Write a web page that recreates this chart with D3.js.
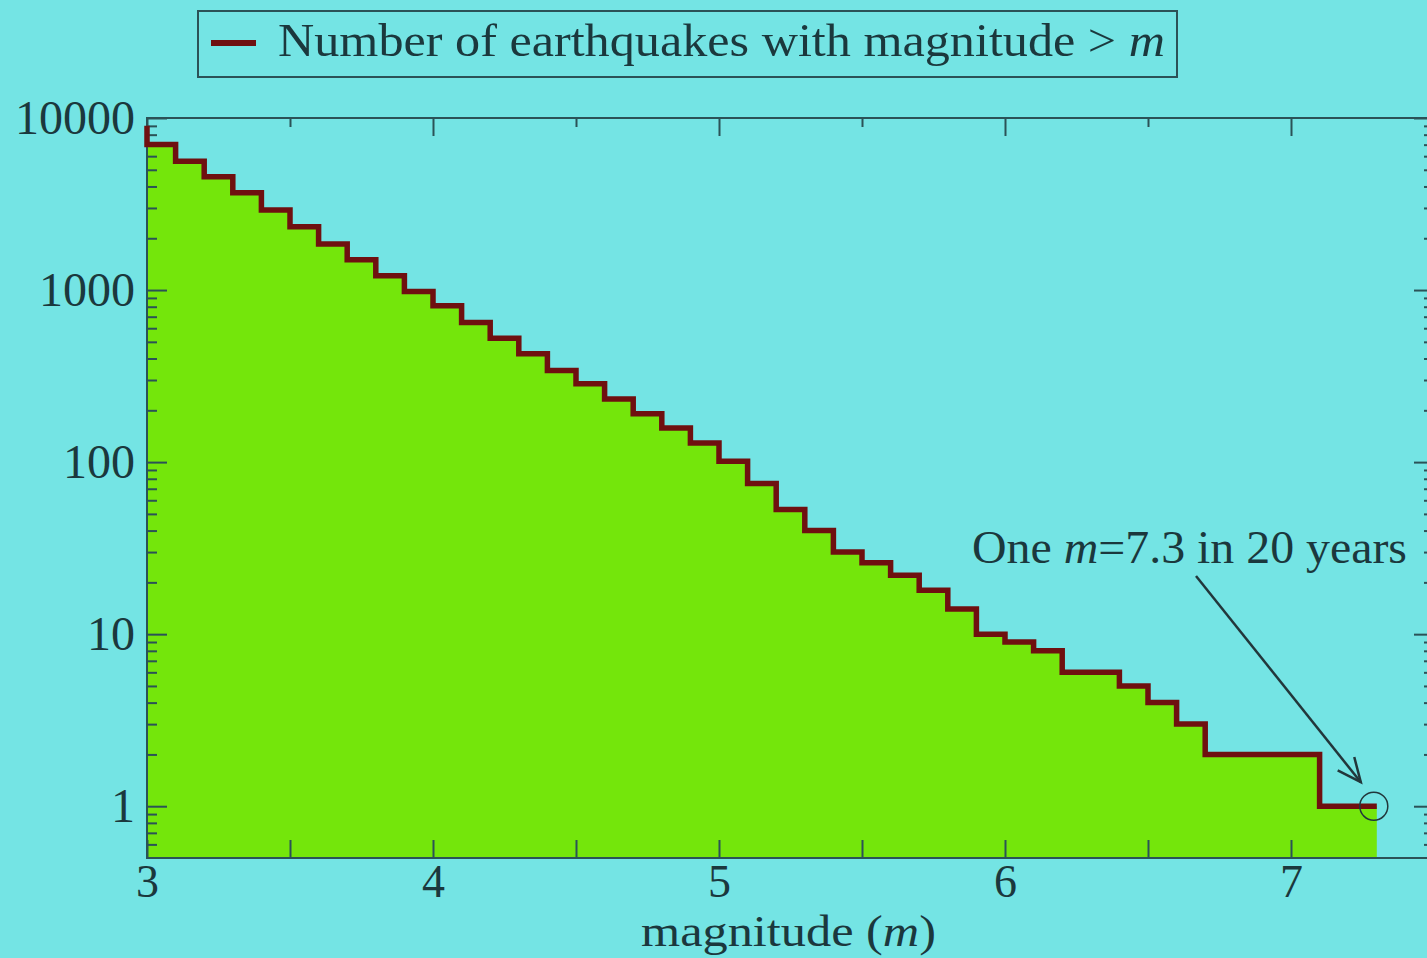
<!DOCTYPE html>
<html>
<head>
<meta charset="utf-8">
<script src="https://cdn.jsdelivr.net/npm/d3@7"></script>
<style>
  html, body { margin: 0; padding: 0; background: #74e4e4; overflow: hidden; }
  svg { display: block; }
  text { font-family: "Liberation Serif", "Times New Roman", serif; fill: #1b383d; }
</style>
</head>
<body>
<svg id="chart" width="1427" height="958"></svg>
<script>
// Cumulative count of earthquakes with magnitude above m, in 0.1 bins
const magnitudes = [3.0, 3.1, 3.2, 3.3, 3.4, 3.5, 3.6, 3.7, 3.8, 3.9,
                    4.0, 4.1, 4.2, 4.3, 4.4, 4.5, 4.6, 4.7, 4.8, 4.9,
                    5.0, 5.1, 5.2, 5.3, 5.4, 5.5, 5.6, 5.7, 5.8, 5.9,
                    6.0, 6.1, 6.2, 6.3, 6.4, 6.5, 6.6, 6.7, 6.8, 6.9,
                    7.0, 7.1, 7.2];
const counts = [7020, 5610, 4550, 3680, 2920, 2330, 1850, 1500, 1210, 980,
                810, 647, 525, 426, 341, 285, 233, 191, 158, 129,
                101, 75, 53, 40, 30, 26, 22, 18, 14, 10,
                9, 8, 6, 6, 5, 4, 3, 2, 2, 2,
                2, 1, 1];
const leadCount = 9000;      // top of the first riser at m = 3
const lastMagnitude = 7.3;   // largest event in the catalogue

const xTicksMajor = [3, 4, 5, 6, 7];
const xTicksHalf = [3.5, 4.5, 5.5, 6.5];
const yTicksMajor = [1, 10, 100, 1000, 10000];
const yTickLabels = ["1", "10", "100", "1000", "10000"];
const yTicksMinor = [0.6, 0.7, 0.8, 0.9,
                     2, 3, 4, 5, 6, 7, 8, 9,
                     20, 30, 40, 50, 60, 70, 80, 90,
                     200, 300, 400, 500, 600, 700, 800, 900,
                     2000, 3000, 4000, 5000, 6000, 7000, 8000, 9000];

const legendLabel = "Number of earthquakes with magnitude > ";
const xLabel = "magnitude (";
const notePrefix = "One ";
const noteSuffix = "=7.3 in 20 years";

const COLORS = {
  fill: "#74e60b",
  line: "#6f1010",
  axis: "#2b5257",
  note: "#22373b"
};

const svg = d3.select("#chart");
const plot = { left: 147, right: 1434, top: 118, bottom: 858 };

const x = d3.scaleLinear().domain([3, 7.5]).range([plot.left, plot.right]);
const y = d3.scaleLog().domain([0.5, 10000]).range([plot.bottom, plot.top]);

// step points: a zero-width lead-in, then one point per bin, closed at the last event
const steps = [[3.0, leadCount]]
  .concat(magnitudes.map((m, i) => [m, counts[i]]))
  .concat([[lastMagnitude, counts[counts.length - 1]]]);

const area = d3.area()
  .x(d => x(d[0]))
  .y0(y(0.5))
  .y1(d => y(d[1]))
  .curve(d3.curveStepAfter);

const line = d3.line()
  .x(d => x(d[0]))
  .y(d => y(d[1]))
  .curve(d3.curveStepAfter);

svg.append("path")
  .datum(steps.slice(1))
  .attr("d", area)
  .attr("fill", COLORS.fill);

// axes: ticks point inward
function styleAxis(g, size) {
  g.select(".domain").remove();
  g.selectAll(".tick line").attr("stroke", COLORS.axis).attr("stroke-width", 2);
  g.selectAll(".tick text")
    .attr("fill", "#1b383d")
    .style("font-family", '"Liberation Serif", "Times New Roman", serif')
    .style("font-size", (size || 48) + "px");
}

svg.append("g")
  .attr("transform", `translate(0,${plot.bottom})`)
  .call(d3.axisBottom(x).tickValues(xTicksMajor).tickSize(-18).tickSizeOuter(0)
    .tickPadding(6).tickFormat(d3.format("d")))
  .call(g => styleAxis(g, 46));

svg.append("g")
  .attr("transform", `translate(0,${plot.bottom})`)
  .call(d3.axisBottom(x).tickValues(xTicksHalf).tickSize(-18).tickSizeOuter(0).tickFormat(""))
  .call(styleAxis);

svg.append("g")
  .attr("transform", `translate(0,${plot.top})`)
  .call(d3.axisTop(x).tickValues(xTicksMajor).tickSize(-18).tickSizeOuter(0).tickFormat(""))
  .call(styleAxis);

svg.append("g")
  .attr("transform", `translate(0,${plot.top})`)
  .call(d3.axisTop(x).tickValues(xTicksHalf).tickSize(-9).tickSizeOuter(0).tickFormat(""))
  .call(styleAxis);

svg.append("g")
  .attr("transform", `translate(${plot.left},0)`)
  .call(d3.axisLeft(y).tickValues(yTicksMajor).tickSize(-20).tickSizeOuter(0)
    .tickPadding(12).tickFormat((d, i) => yTickLabels[i]))
  .call(styleAxis);

svg.append("g")
  .attr("transform", `translate(${plot.left},0)`)
  .call(d3.axisLeft(y).tickValues(yTicksMinor).tickSize(-10).tickSizeOuter(0).tickFormat(""))
  .call(styleAxis);

svg.append("g")
  .attr("transform", `translate(${plot.right},0)`)
  .call(d3.axisRight(y).tickValues(yTicksMajor).tickSize(-20).tickSizeOuter(0).tickFormat(""))
  .call(styleAxis);

svg.append("g")
  .attr("transform", `translate(${plot.right},0)`)
  .call(d3.axisRight(y).tickValues(yTicksMinor).tickSize(-10).tickSizeOuter(0).tickFormat(""))
  .call(styleAxis);

// frame
svg.append("rect")
  .attr("x", plot.left).attr("y", plot.top)
  .attr("width", plot.right - plot.left).attr("height", plot.bottom - plot.top)
  .attr("fill", "none").attr("stroke", COLORS.axis).attr("stroke-width", 2);

// step outline
svg.append("path")
  .datum(steps)
  .attr("d", line)
  .attr("fill", "none")
  .attr("stroke", COLORS.line)
  .attr("stroke-width", 5.5)
  .attr("stroke-linejoin", "miter");

// x-axis title
const xt = svg.append("text")
  .attr("x", 641).attr("y", 946)
  .attr("textLength", 295).attr("lengthAdjust", "spacingAndGlyphs")
  .style("font-size", "44px");
xt.append("tspan").text(xLabel);
xt.append("tspan").style("font-style", "italic").text("m");
xt.append("tspan").text(")");

// legend
const legend = svg.append("g");
legend.append("rect")
  .attr("x", 198).attr("y", 11).attr("width", 979).attr("height", 66)
  .attr("fill", "none").attr("stroke", COLORS.axis).attr("stroke-width", 2);
legend.append("line")
  .attr("x1", 211).attr("x2", 256).attr("y1", 43).attr("y2", 43)
  .attr("stroke", COLORS.line).attr("stroke-width", 6);
const lt = legend.append("text")
  .attr("x", 278).attr("y", 56)
  .attr("textLength", 887).attr("lengthAdjust", "spacingAndGlyphs")
  .style("font-size", "46px");
lt.append("tspan").text(legendLabel);
lt.append("tspan").style("font-style", "italic").text("m");

// annotation for the largest event
const px = x(lastMagnitude), py = y(counts[counts.length - 1]);
svg.append("circle")
  .attr("cx", px - 3).attr("cy", py).attr("r", 14)
  .attr("fill", "none").attr("stroke", COLORS.note).attr("stroke-width", 1.5);

const nt = svg.append("text")
  .attr("x", 972).attr("y", 563)
  .attr("textLength", 435).attr("lengthAdjust", "spacingAndGlyphs")
  .attr("fill", COLORS.note)
  .style("font-size", "47px");
nt.append("tspan").text(notePrefix);
nt.append("tspan").style("font-style", "italic").text("m");
nt.append("tspan").text(noteSuffix);

const ax0 = 1196, ay0 = 576;
const ax1 = px - 16, ay1 = py - 24;
const ang = Math.atan2(ay1 - ay0, ax1 - ax0);
const head = 26, spread = 0.42;
svg.append("line")
  .attr("x1", ax0).attr("y1", ay0).attr("x2", ax1).attr("y2", ay1)
  .attr("stroke", COLORS.note).attr("stroke-width", 2.5);
svg.append("path")
  .attr("d", `M${ax1 - head * Math.cos(ang - spread)},${ay1 - head * Math.sin(ang - spread)}
              L${ax1},${ay1}
              L${ax1 - head * Math.cos(ang + spread)},${ay1 - head * Math.sin(ang + spread)}`)
  .attr("fill", "none").attr("stroke", COLORS.note).attr("stroke-width", 2.5);
</script>
</body>
</html>
